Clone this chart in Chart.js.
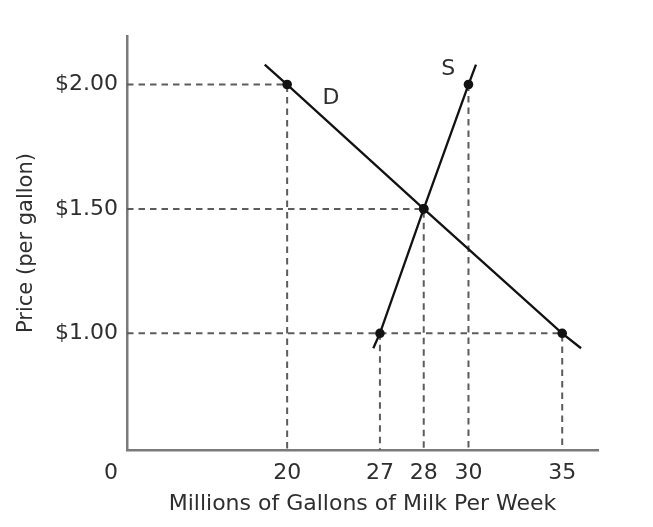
<!DOCTYPE html>
<html>
<head>
<meta charset="utf-8">
<script src="https://cdn.jsdelivr.net/npm/chart.js@4.4.1/dist/chart.umd.min.js"></script>
<style>
  html, body { margin: 0; padding: 0; background: #fff; }
  #wrap { width: 653px; height: 527px; }
</style>
</head>
<body>
<div id="wrap"><canvas id="milk" width="653" height="527"></canvas></div>
<script>
// market for milk: price per gallon vs millions of gallons per week
const prices = [2.0, 1.5, 1.0];
const qtyDemanded = [20, 28, 35];
const qtySupplied = [30, 28, 27];
// the curves run a little past the marked points
const demandEnds = [{ x: 17.2, y: 2.08 }, { x: 36, y: 0.94 }];
const supplyEnds = [{ x: 26.5, y: 0.94 }, { x: 30.4, y: 2.08 }];
const qtyTicks = [20, 27, 28, 30, 35];
const priceTicks = [1.0, 1.5, 2.0];
const curveLabels = [
  { text: "D", x: 23.3, y: 1.945 },
  { text: "S", x: 29.1, y: 2.06 },
];

const FONT = "'DejaVu Sans', sans-serif";
const TEXT = "#2e2e2e";
const AXIS = "#7a7a7a";
const GUIDE = "#5c5c5c";
const PRICE_MIN = 0.531;
const PRICE_MAX = 2.195;

// the quantity axis in the book is not to scale, so map it piecewise
const xStops = [0, 20, 27, 28, 30, 35, 36.9];
const xFrac = [0, 0.34, 0.537, 0.63, 0.725, 0.924, 1];

function qtyToFrac(v) {
  for (let i = 1; i < xStops.length; i++) {
    if (v <= xStops[i] || i === xStops.length - 1) {
      const t = (v - xStops[i - 1]) / (xStops[i] - xStops[i - 1]);
      return xFrac[i - 1] + t * (xFrac[i] - xFrac[i - 1]);
    }
  }
}
function fracToQty(f) {
  for (let i = 1; i < xFrac.length; i++) {
    if (f <= xFrac[i] || i === xFrac.length - 1) {
      const t = (f - xFrac[i - 1]) / (xFrac[i] - xFrac[i - 1]);
      return xStops[i - 1] + t * (xStops[i] - xStops[i - 1]);
    }
  }
}

class BrokenScale extends Chart.LinearScale {
  getPixelForValue(value) {
    if (value === null || value === undefined || isNaN(value)) return NaN;
    return this.getPixelForDecimal(qtyToFrac(value));
  }
  getValueForPixel(pixel) {
    return fracToQty(this.getDecimalForPixel(pixel));
  }
}
BrokenScale.id = "broken";
BrokenScale.defaults = Chart.LinearScale.defaults;
Chart.register(BrokenScale);

const demandPts = qtyDemanded.map((q, i) => ({ x: q, y: prices[i] }));
const supplyPts = qtySupplied.map((q, i) => ({ x: q, y: prices[i] })).reverse();

const guides = [];
qtyDemanded.forEach((q, i) => {
  guides.push([{ x: 0, y: prices[i] }, { x: q, y: prices[i] }, { x: q, y: PRICE_MIN }]);
});
qtySupplied.forEach((q, i) => {
  if (q !== qtyDemanded[i]) guides.push([{ x: q, y: prices[i] }, { x: q, y: PRICE_MIN }]);
});

const endsHidden = (ctx) => {
  const n = ctx.dataset.data.length;
  return ctx.dataIndex === 0 || ctx.dataIndex === n - 1 ? 0 : 4.8;
};

const curve = (data) => ({
  data,
  borderColor: "#121212",
  backgroundColor: "#121212",
  borderWidth: 2.3,
  tension: 0,
  pointRadius: endsHidden,
  pointBorderWidth: 0,
});

const datasets = [
  curve([demandEnds[0], ...demandPts, demandEnds[1]]),
  curve([supplyEnds[0], ...supplyPts, supplyEnds[1]]),
  ...guides.map((g) => ({
    data: g,
    borderColor: GUIDE,
    borderWidth: 2,
    borderDash: [6.5, 5],
    pointRadius: 0,
    tension: 0,
  })),
];

const annotate = {
  id: "annotate",
  afterDraw(chart) {
    const { ctx } = chart;
    const { x, y } = chart.scales;
    ctx.save();
    ctx.fillStyle = TEXT;
    ctx.font = `22px ${FONT}`;
    ctx.textBaseline = "middle";
    ctx.textAlign = "center";
    curveLabels.forEach((l) => {
      ctx.fillText(l.text, x.getPixelForValue(l.x), y.getPixelForValue(l.y));
    });
    ctx.textAlign = "right";
    ctx.fillText("0", y.right - 9, x.top + 10 + 13.2);
    ctx.restore();
  },
};

new Chart(document.getElementById("milk"), {
  type: "line",
  data: { datasets },
  options: {
    responsive: false,
    animation: false,
    layout: { padding: { top: 36, right: 55, left: 0, bottom: 0 } },
    plugins: { legend: { display: false }, tooltip: { enabled: false } },
    scales: {
      x: {
        type: "broken",
        min: 0,
        max: 36.9,
        grid: { display: false, drawTicks: false },
        border: { display: true, color: AXIS, width: 2.5 },
        afterBuildTicks: (s) => { s.ticks = qtyTicks.map((v) => ({ value: v })); },
        afterFit: (s) => { s.height = 77; },
        ticks: {
          padding: 10,
          maxRotation: 0,
          autoSkip: false,
          color: TEXT,
          font: { family: FONT, size: 22 },
          callback: (v) => String(v),
        },
        title: {
          display: true,
          text: "Millions of Gallons of Milk Per Week",
          color: TEXT,
          font: { family: FONT, size: 22 },
          padding: { bottom: 10 },
        },
      },
      y: {
        min: PRICE_MIN,
        max: PRICE_MAX,
        grid: { display: false, drawTicks: false },
        border: { display: true, color: AXIS, width: 2.5 },
        afterBuildTicks: (s) => { s.ticks = priceTicks.map((v) => ({ value: v })); },
        afterFit: (s) => { s.width = 127; },
        ticks: {
          padding: 9,
          color: TEXT,
          font: { family: FONT, size: 22 },
          callback: (v) => "$" + Number(v).toFixed(2),
        },
        title: {
          display: true,
          text: "Price (per gallon)",
          color: TEXT,
          font: { family: FONT, size: 21 },
          padding: { top: 14 },
        },
      },
    },
  },
  plugins: [annotate],
});
</script>
</body>
</html>
